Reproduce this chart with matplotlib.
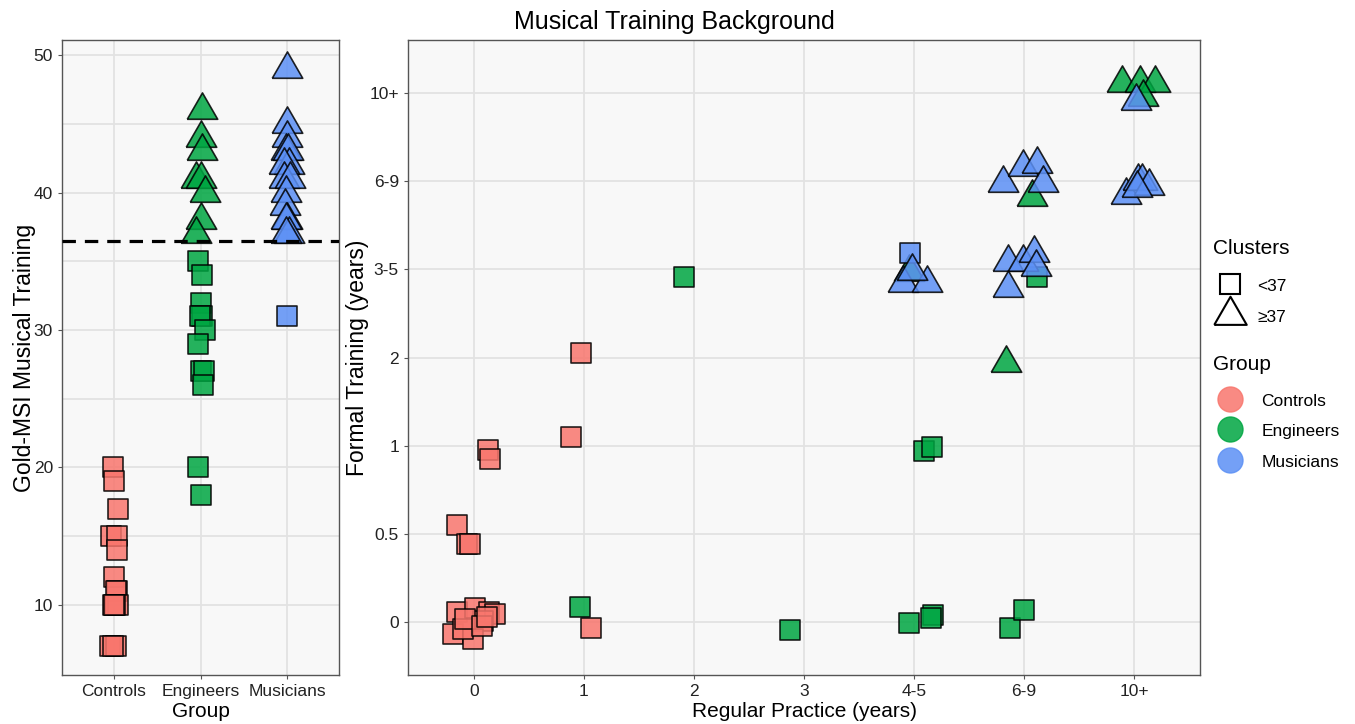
import numpy as np
import matplotlib.pyplot as plt
from matplotlib.lines import Line2D

plt.rcParams['font.family'] = ['Liberation Sans', 'DejaVu Sans']

groups = ['Controls', 'Engineers', 'Musicians']
group_colors = ['#F8766D', '#00A642', '#5C90F5']

# ---- Gold-MSI scores per group (x = jittered group position) ----
ctrl_sq_x = [0.99, 1.00, 1.05, 0.97, 1.03, 1.04, 1.00, 1.04, 1.02, 0.99, 1.05, 1.01, 1.00, 0.96, 1.02, 0.99]
ctrl_sq_y = [20, 19, 17, 15, 15, 14, 12, 11, 11, 10, 10, 10, 10, 7, 7, 7]

eng_sq_x = [1.97, 2.02, 2.00, 2.02, 1.99, 2.05, 1.97, 2.00, 2.04, 2.03, 1.97, 2.00]
eng_sq_y = [35, 34, 32, 31, 31, 30, 29, 27, 27, 26, 20, 18]
eng_tri_x = [2.02, 2.00, 2.02, 1.95, 2.01, 2.05, 2.00, 1.95]
eng_tri_y = [46, 44, 43, 41, 41, 40, 38, 37]

mus_sq_x = [3.00]
mus_sq_y = [31]
mus_tri_x = [3.00, 3.00, 3.00, 2.99, 3.01, 3.02, 2.97, 2.96, 3.03, 2.99, 2.98, 3.00, 2.99, 3.02, 2.99]
mus_tri_y = [49, 45, 44, 43, 43, 42, 42, 41, 41, 40, 39, 38, 38, 37, 37]

# ---- Regular practice vs formal training (category index + jitter) ----
practice_labels = ['0', '1', '2', '3', '4-5', '6-9', '10+']
formal_labels = ['0', '0.5', '1', '2', '3-5', '6-9', '10+']

ctrl_p_x = [0.97, 0.88, 0.13, 0.15, -0.15, -0.06, -0.04, 1.06,
            -0.15, 0.01, 0.14, 0.19, 0.08, -0.19, -0.01, -0.10, -0.08, 0.07, 0.12]
ctrl_p_y = [3.05, 2.10, 1.95, 1.85, 1.10, 0.89, 0.89, -0.07,
            0.12, 0.16, 0.12, 0.09, 0.01, -0.14, -0.19, -0.08, 0.03, -0.05, 0.06]

eng_p_sq_x = [1.91, 0.96, 4.09, 4.16, 3.95, 4.17, 4.15, 4.87, 5.00, 2.87, 5.12]
eng_p_sq_y = [3.91, 0.17, 1.94, 1.99, -0.01, 0.08, 0.05, -0.07, 0.14, -0.09, 3.91]
eng_p_tri_x = [4.84, 5.07, 5.89, 6.05, 6.19, 6.08, 3.95]
eng_p_tri_y = [2.94, 4.82, 6.11, 6.11, 6.11, 5.95, 3.97]

mus_p_sq_x = [3.96]
mus_p_sq_y = [4.19]
mus_p_tri_x = [6.02, 5.93, 6.04, 6.07, 6.14, 6.03,
               4.81, 4.99, 5.12, 5.17,
               4.85, 4.85, 4.99, 5.09, 5.11,
               3.90, 4.12, 3.98]
mus_p_tri_y = [5.91, 4.84, 5.00, 5.00, 4.94, 4.92,
               4.98, 5.16, 5.19, 4.98,
               4.08, 3.79, 4.08, 4.18, 4.03,
               3.84, 3.84, 3.98]

cutoff = 36.5

tri = [(-1, -0.57735), (1, -0.57735), (0, 1.1547), (-1, -0.57735)]
SQ_S = 215
TRI_S = 640
ALPHA = 0.85
panel_bg = '#F8F8F8'
grid_c = '#E2E2E2'


def style_panel(ax):
    ax.set_facecolor(panel_bg)
    ax.grid(True, which='both', color=grid_c, linewidth=1.3, zorder=0)
    ax.set_axisbelow(True)
    for s in ax.spines.values():
        s.set_color('#555555')
        s.set_linewidth(1.0)
    ax.tick_params(which='major', length=3, color='#555555', labelsize=12.5, labelcolor='#222222')
    ax.tick_params(which='minor', length=0)


def pts(ax, x, y, marker, size, color):
    ax.scatter(x, y, marker=marker, s=size, facecolor=color, alpha=ALPHA,
               edgecolor='black', linewidth=1.2, zorder=3)


fig = plt.figure(figsize=(13.55, 7.24), dpi=100)

# left panel: Gold-MSI musical training by group
ax1 = fig.add_axes([62 / 1355, 49 / 724, 277 / 1355, 635 / 724])
style_panel(ax1)
pts(ax1, ctrl_sq_x, ctrl_sq_y, 's', SQ_S, group_colors[0])
pts(ax1, eng_sq_x, eng_sq_y, 's', SQ_S, group_colors[1])
pts(ax1, eng_tri_x, eng_tri_y, tri, TRI_S, group_colors[1])
pts(ax1, mus_sq_x, mus_sq_y, 's', SQ_S, group_colors[2])
pts(ax1, mus_tri_x, mus_tri_y, tri, TRI_S, group_colors[2])
ax1.axhline(cutoff, color='black', linewidth=2.3, linestyle=(0, (4.2, 2.8)), zorder=4)
ax1.set_xlim(0.4, 3.6)
ax1.set_ylim(4.9, 51.1)
ax1.set_xticks([1, 2, 3])
ax1.set_xticklabels(groups)
ax1.set_yticks([10, 20, 30, 40, 50])
ax1.set_yticks([15, 25, 35, 45], minor=True)
ax1.set_xlabel('Group', fontsize=15, labelpad=2)
ax1.set_ylabel('Gold-MSI Musical Training', fontsize=16.5, labelpad=-2)

# right panel: regular practice vs formal training
ax2 = fig.add_axes([408 / 1355, 49 / 724, 792 / 1355, 635 / 724])
style_panel(ax2)
pts(ax2, ctrl_p_x, ctrl_p_y, 's', SQ_S, group_colors[0])
pts(ax2, eng_p_sq_x, eng_p_sq_y, 's', SQ_S, group_colors[1])
pts(ax2, eng_p_tri_x, eng_p_tri_y, tri, TRI_S, group_colors[1])
pts(ax2, mus_p_sq_x, mus_p_sq_y, 's', SQ_S, group_colors[2])
pts(ax2, mus_p_tri_x, mus_p_tri_y, tri, TRI_S, group_colors[2])
ax2.set_xlim(-0.6, 6.6)
ax2.set_ylim(-0.6, 6.6)
ax2.set_xticks(range(len(practice_labels)))
ax2.set_xticklabels(practice_labels)
ax2.set_yticks(range(len(formal_labels)))
ax2.set_yticklabels(formal_labels)
ax2.set_xlabel('Regular Practice (years)', fontsize=15, labelpad=2)
ax2.set_ylabel('Formal Training (years)', fontsize=16.5, labelpad=0.5)

fig.text(0.498, 1 - 22 / 724, 'Musical Training Background', fontsize=18,
         ha='center', va='center')

# legends (titles drawn as separate text so the spacing can be set freely)
fig.text(1213 / 1355, 1 - 248 / 724, 'Clusters', fontsize=15, ha='left', va='center')
fig.text(1213 / 1355, 1 - 365 / 724, 'Group', fontsize=15, ha='left', va='center')

shape_handles = [
    Line2D([], [], linestyle='none', marker='s', markersize=15,
           markerfacecolor='white', markeredgecolor='black', markeredgewidth=1.5),
    Line2D([], [], linestyle='none', marker=tri, markersize=27,
           markerfacecolor='white', markeredgecolor='black', markeredgewidth=1.5),
]
leg1 = fig.legend(shape_handles, ['<37', '≥37'], loc='upper left',
                  bbox_to_anchor=(1213 / 1355, 1 - 277 / 724), frameon=False,
                  borderaxespad=0, borderpad=0, fontsize=12.5,
                  handlelength=2.0, handleheight=1.0, handletextpad=0.55,
                  labelspacing=0.82)

group_handles = [
    Line2D([], [], linestyle='none', marker='o', markersize=18,
           markerfacecolor=c, markeredgecolor=c, alpha=ALPHA)
    for c in group_colors
]
leg2 = fig.legend(group_handles, groups, loc='upper left',
                  bbox_to_anchor=(1213 / 1355, 1 - 392 / 724), frameon=False,
                  borderaxespad=0, borderpad=0, fontsize=12.5,
                  handlelength=2.0, handleheight=1.0, handletextpad=0.8,
                  labelspacing=0.8)

fig.savefig('out.png', dpi=100)
